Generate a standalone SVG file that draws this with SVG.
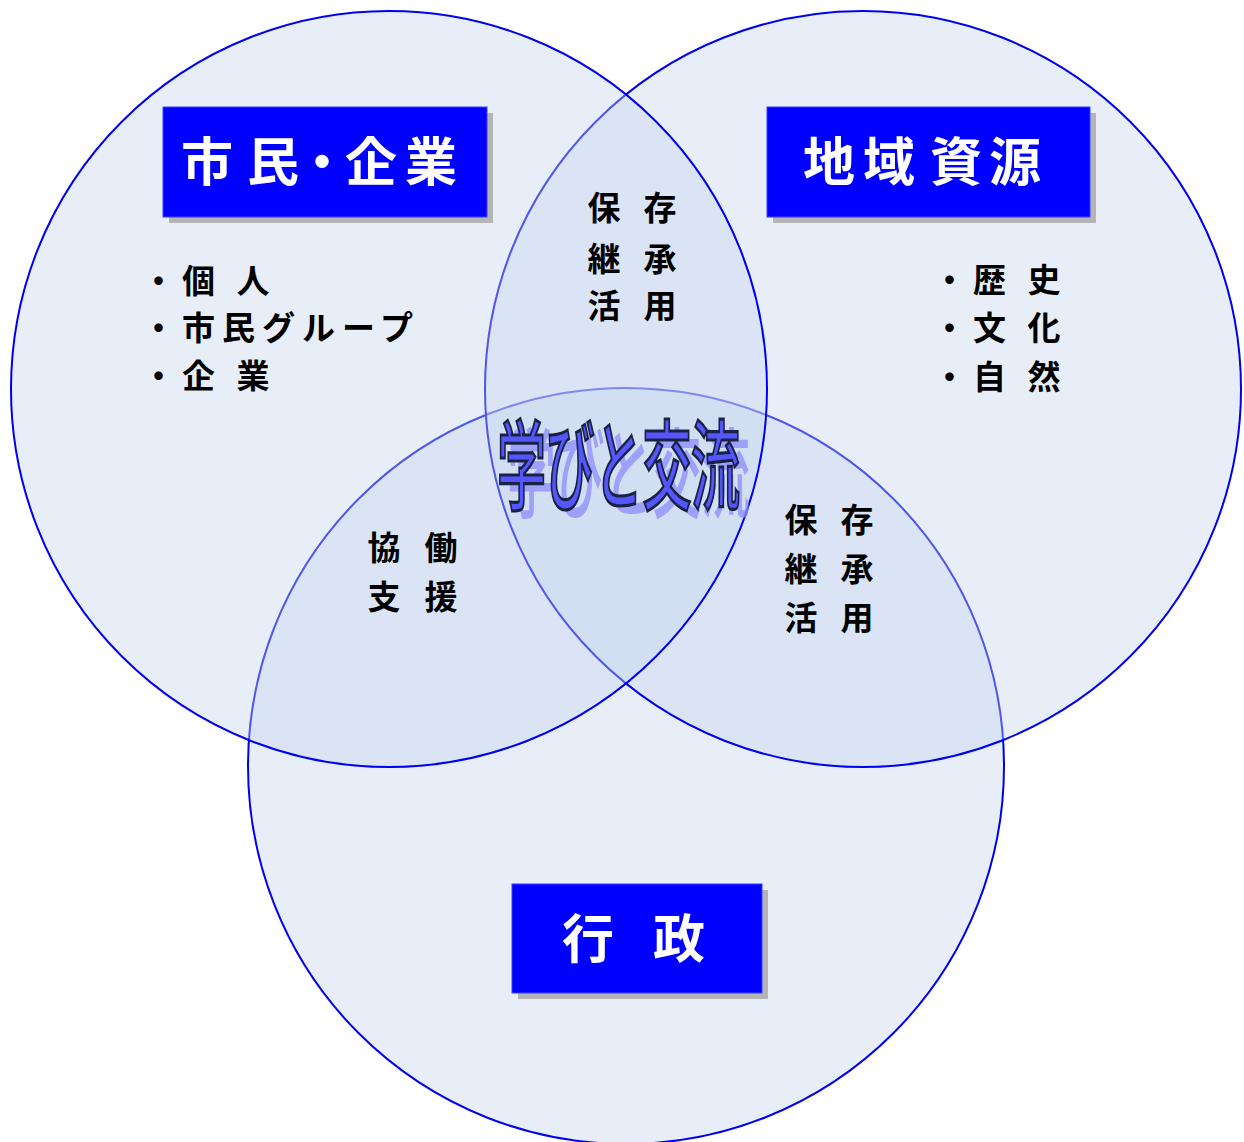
<svg xmlns="http://www.w3.org/2000/svg" width="1244" height="1142" viewBox="0 0 1244 1142">
<style>
.c{fill:rgb(197,212,237);fill-opacity:0.4;stroke:#0000f0;stroke-width:2}
.sh{fill:#b4b4b4}
.bx{fill:#0000ff;stroke:#3c3cff;stroke-width:1}
.bt{font-family:"Noto Sans CJK JP","Noto Sans CJK SC",sans-serif;font-weight:700;font-size:52px;fill:#ffffff;text-anchor:middle}
.lt{font-family:"Noto Sans CJK JP","Noto Sans CJK SC",sans-serif;font-weight:700;font-size:33px;fill:#000000}
.mt{font-family:"Noto Sans CJK JP","Noto Sans CJK SC",sans-serif;font-weight:700;font-size:33px;fill:#000000;text-anchor:middle}
.wa{font-family:"Noto Sans CJK JP","Noto Sans CJK SC",sans-serif;font-weight:500;font-size:49px;letter-spacing:-0.5px}
</style>
<rect width="1244" height="1142" fill="#ffffff"/>
<g id="circles">
<circle id="circle-gyosei" class="c" cx="626" cy="766" r="378"/>
<circle id="circle-chiiki" class="c" cx="863" cy="389" r="378"/>
<circle id="circle-shimin" class="c" cx="389" cy="389" r="378"/>
</g>
<g id="node-shimin">
<rect class="sh" x="169" y="113" width="324" height="110"/>
<rect class="bx" x="163" y="107" width="324" height="110"/>
<text class="bt" y="181"><tspan x="207">市</tspan><tspan x="273">民</tspan><tspan x="322">・</tspan><tspan x="371">企</tspan><tspan x="431">業</tspan></text>
</g>
<g id="node-chiiki">
<rect class="sh" x="773" y="113" width="323" height="110"/>
<rect class="bx" x="767" y="107" width="323" height="110"/>
<text class="bt" y="181"><tspan x="829">地</tspan><tspan x="889">域</tspan><tspan x="956">資</tspan><tspan x="1015">源</tspan></text>
</g>
<g id="node-gyosei">
<rect class="sh" x="518" y="890" width="250" height="109"/>
<rect class="bx" x="512" y="884" width="250" height="109"/>
<text class="bt" y="958"><tspan x="588">行</tspan><tspan x="679">政</tspan></text>
</g>
<g id="list-shimin">
<text class="lt" x="142" y="293" letter-spacing="7">・個 人</text>
<text class="lt" x="142" y="340" letter-spacing="7">・市民グループ</text>
<text class="lt" x="142" y="388" letter-spacing="7">・企 業</text>
</g>
<g id="list-chiiki">
<text class="lt" x="933" y="292" letter-spacing="7">・歴 史</text>
<text class="lt" x="933" y="340" letter-spacing="7">・文 化</text>
<text class="lt" x="933" y="389" letter-spacing="7">・自 然</text>
</g>
<g id="overlap-top">
<text class="mt" y="220"><tspan x="604">保</tspan><tspan x="660">存</tspan></text>
<text class="mt" y="271"><tspan x="604">継</tspan><tspan x="660">承</tspan></text>
<text class="mt" y="318"><tspan x="604">活</tspan><tspan x="660">用</tspan></text>
</g>
<g id="overlap-right">
<text class="mt" y="532"><tspan x="801">保</tspan><tspan x="857">存</tspan></text>
<text class="mt" y="581"><tspan x="801">継</tspan><tspan x="857">承</tspan></text>
<text class="mt" y="630"><tspan x="801">活</tspan><tspan x="857">用</tspan></text>
</g>
<g id="overlap-left">
<text class="mt" y="560"><tspan x="384">協</tspan><tspan x="441">働</tspan></text>
<text class="mt" y="609"><tspan x="384">支</tspan><tspan x="441">援</tspan></text>
</g>
<g id="center-title">
<text class="wa" transform="translate(507,510) scale(1,2)" fill="#8c8cff" fill-opacity="0.75">学びと交流</text>
<text class="wa" transform="translate(497,502) scale(1,2)" fill="#5656ff" stroke="#1a2244" stroke-width="1.6">学びと交流</text>
</g>
</svg>
